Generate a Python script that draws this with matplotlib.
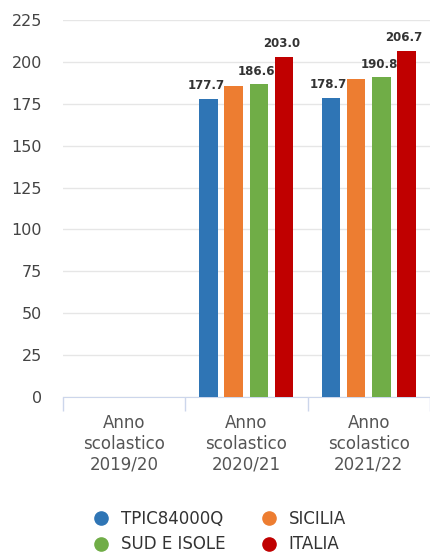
import matplotlib
matplotlib.use("Agg")
import matplotlib.pyplot as plt
import numpy as np
from matplotlib.lines import Line2D

categories = ["Anno\nscolastico\n2019/20", "Anno\nscolastico\n2020/21", "Anno\nscolastico\n2021/22"]
series_names = ["TPIC84000Q", "SICILIA", "SUD E ISOLE", "ITALIA"]
tpic = [np.nan, 177.7, 178.7]
sicilia = [np.nan, 185.7, 189.5]
sud = [np.nan, 186.6, 190.8]
italia = [np.nan, 203.0, 206.7]
show_labels = [True, False, True, True]
colors = ["#2f75b5", "#ed7d31", "#70ad47", "#c00000"]
yticks = [0, 25, 50, 75, 100, 125, 150, 175, 200, 225]

fig = plt.figure(figsize=(4.3, 5.53), dpi=100)
ax = fig.add_axes([0.1465, 0.282, 0.853, 0.682])

x = np.arange(len(categories))
series = [tpic, sicilia, sud, italia]
offsets = [-0.31, -0.105, 0.105, 0.31]
bw = 0.15
for s, vals, col, off, lab in zip(series_names, series, colors, offsets, show_labels):
    ax.bar(x + off, vals, width=bw, color=col, zorder=3)
    if lab:
        for xi, v in zip(x, vals):
            if not np.isnan(v):
                ax.text(xi + off - 0.02, v + 4, f"{v:.1f}", ha="center", va="bottom",
                        fontsize=8.5, color="#333333", fontweight="bold", zorder=4)

ax.set_xlim(-0.5, 2.5)
ax.set_ylim(0, 225)
ax.set_yticks(yticks)
ax.set_yticklabels([str(t) for t in yticks], fontsize=11.5, color="#444444")
ax.yaxis.grid(True, color="#e6e6e6", linewidth=1, zorder=0)
ax.tick_params(axis="y", length=0, pad=15)
ax.set_xticks(x)
ax.set_xticklabels(categories, fontsize=12, color="#555555", linespacing=1.2)
ax.set_xticks([-0.5, 0.5, 1.5, 2.5], minor=True)
ax.tick_params(axis="x", which="major", length=0, pad=12)
ax.tick_params(axis="x", which="minor", length=10, color="#ccd6eb", width=1)
for sp in ["top", "right", "left"]:
    ax.spines[sp].set_visible(False)
ax.spines["bottom"].set_color("#ccd6eb")

order = [0, 2, 1, 3]
handles = [Line2D([0], [0], marker="o", linestyle="none", markersize=9.5,
                  markerfacecolor=colors[i], markeredgecolor=colors[i]) for i in order]
labels = [series_names[i] for i in order]
fig.legend(handles, labels, loc="lower center", bbox_to_anchor=(0.5, -0.028),
           ncol=2, frameon=False, fontsize=12, handletextpad=0.2,
           columnspacing=1.6, labelspacing=0.45, labelcolor="#333333")

fig.savefig("out.png", dpi=100)
